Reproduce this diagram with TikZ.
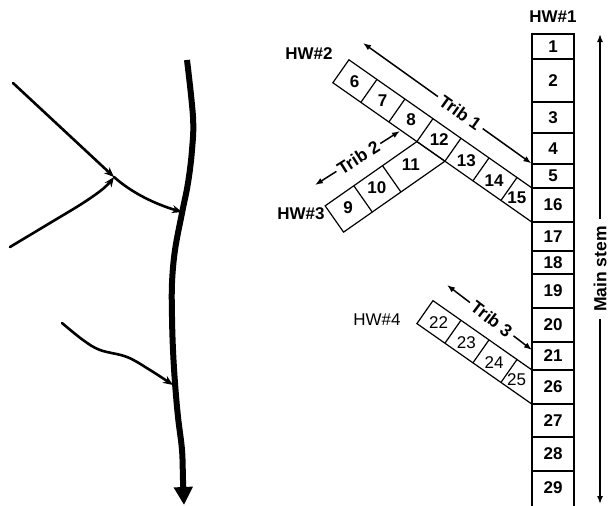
\documentclass[tikz,border=0pt]{standalone}
\usepackage{fontspec}
\setmainfont{Liberation Sans}
\usetikzlibrary{arrows.meta}
\begin{document}
\begin{tikzpicture}[x=1pt,y=-1pt,
  txt/.style={inner sep=0pt, font=\fontsize{17}{19}\selectfont\bfseries},
  plain/.style={inner sep=0pt, font=\fontsize{17}{19}\selectfont},
  cellbox/.style={draw, line width=1.2pt, minimum width=42pt, inner sep=0pt,
                  font=\fontsize{17}{19}\selectfont\bfseries},
  edge/.style={line width=1.2pt, line join=miter},
  both/.style={line width=1.5pt,
               {Latex[length=8pt,width=6pt]}-{Latex[length=8pt,width=6pt]}},
  tag/.style={sloped, fill=white, inner ysep=1pt, inner xsep=4pt,
              font=\fontsize{17.5}{19}\selectfont\bfseries},
  stem/.style={line width=6pt, line cap=butt,
               -{Triangle[length=18pt,width=18pt]}},
  branch/.style={line width=2.6pt, line cap=round,
                 -{Stealth[length=10pt,width=8pt]}}
]
\useasboundingbox (0,0) rectangle (611,506);
\clip (0,0) rectangle (611,506);

% ---------- sketch of the river network ----------
\coordinate (src1) at (13,83);
\coordinate (src2) at (10,247);
\coordinate (src3) at (62,323);
\coordinate (conf) at (114,177);
\coordinate (conf1) at (182,212);
\coordinate (conf2) at (173,385);
\draw[stem] plot[smooth, tension=0.6] coordinates
  {(187,60) (193,117) (192,150) (188,183) (182,213) (175,250) (172,283)
   (172,317) (173,350) (175,383) (178,417) (182,450) (183,480) (184,505)};
\draw[branch] (src1) -- (conf);
\draw[branch] plot[smooth, tension=0.6] coordinates
  {(src2) (50,223) (83,203) (104,188) (conf)};
\draw[branch] (conf) .. controls (132,193) and (155,204) .. (conf1);
\draw[branch] plot[smooth, tension=0.6] coordinates
  {(src3) (83,340) (100,350) (127,357) (150,370) (conf2)};

% ---------- tributary 1 (cells 6,7,8,12,13,14,15) ----------
\begin{scope}[shift={(532,188)}, rotate=-35]
  \draw[edge] (-223.5,0) -- (0,0) -- (19.6,28) -- (-223.5,28) -- cycle;
  \foreach \u in {-18.3,-52.5,-86.7,-120.9,-155.1,-189.3}
    \draw[edge] (\u,0) -- (\u,28);
  \node[txt] (n6)  at (-206.4,14.5) {6};
  \node[txt] (n7)  at (-172.2,14.5) {7};
  \node[txt] (n8)  at (-138.0,13.5) {8};
  \node[txt] (n12) at (-103.8,13.5) {12};
  \node[txt] (n13) at (-69.6,15)   {13};
  \node[txt] (n14) at (-35.4,15.5) {14};
  \node[txt] (n15) at (-6.5,17)    {15};
  \coordinate (j1) at (-120.9,28);
  \coordinate (j2) at (-86.7,28);
\end{scope}

% ---------- tributary 2 (cells 9,10,11), joining at cell 12 ----------
\begin{scope}[shift={(j1)}, rotate=35]
  \draw[edge] (0,0) -- (-112,0) -- (-112,32.1) -- (j2) -- cycle;
  \foreach \u in {-77,-42}
    \draw[edge] (\u,0) -- (\u,32.1);
  \node[txt] (n9)  at (-94.5,15) {9};
  \node[txt] (n10) at (-59.5,15) {10};
  \node[txt] (n11) at (-18,15)   {11};
\end{scope}

% ---------- tributary 3 (cells 22,23,24,25) ----------
\begin{scope}[shift={(532,370)}, rotate=-35]
  \draw[edge] (-120.9,0) -- (0,0) -- (19.6,28) -- (-120.9,28) -- cycle;
  \foreach \u in {-18.3,-52.5,-86.7}
    \draw[edge] (\u,0) -- (\u,28);
  \node[plain] (n22) at (-103.8,14.5) {22};
  \node[plain] (n23) at (-69.6,15)    {23};
  \node[plain] (n24) at (-35.4,15.5)  {24};
  \node[plain] (n25) at (-7,17)       {25};
\end{scope}

% ---------- main stem column ----------
\foreach \t/\b/\n in {34/59/1, 59/102/2, 102/133/3, 133/164/4, 164/188/5,
                     188/222/16, 222/251/17, 251/274/18, 274/308/19,
                     308/342/20, 342/370/21, 370/404/26, 404/437/27, 437/471/28}
  \node[cellbox, minimum height={\b-\t}] (c\n) at (553,{(\t+\b)/2}) {\n};
\node[cellbox, minimum height=70, anchor=north] (c29) at (553,471) {};
\node[txt] (n29) at (553,488) {29};

% ---------- headwater labels ----------
\node[txt] (hw1) at (553,17) {HW\#1};
\node[txt] (hw2) at (309,54) {HW\#2};
\node[txt] (hw3) at (301,214) {HW\#3};
\node[plain] (hw4) at (377,320) {HW\#4};

% ---------- direction arrows ----------
\coordinate (t1a) at (363,43);
\draw[both] (t1a) -- (c5.north west) node[pos=0.578, tag] {Trib 1};
\coordinate (t2a) at (315,185);
\coordinate (t2b) at (400,131);
\draw[both] (t2a) -- (t2b) node[pos=0.51, tag, inner xsep=2.5pt] {Trib 2};
\coordinate (t3a) at (447,285);
\coordinate (t3b) at (532,350);
\draw[both] (t3a) -- (t3b) node[pos=0.526, tag] {Trib 3};
\coordinate (msb) at (600,504);
\coordinate (mst) at (600,34);
\draw[both] (msb) -- (mst) node[midway, tag, inner xsep=7pt] {Main stem};
\end{tikzpicture}
\end{document}
